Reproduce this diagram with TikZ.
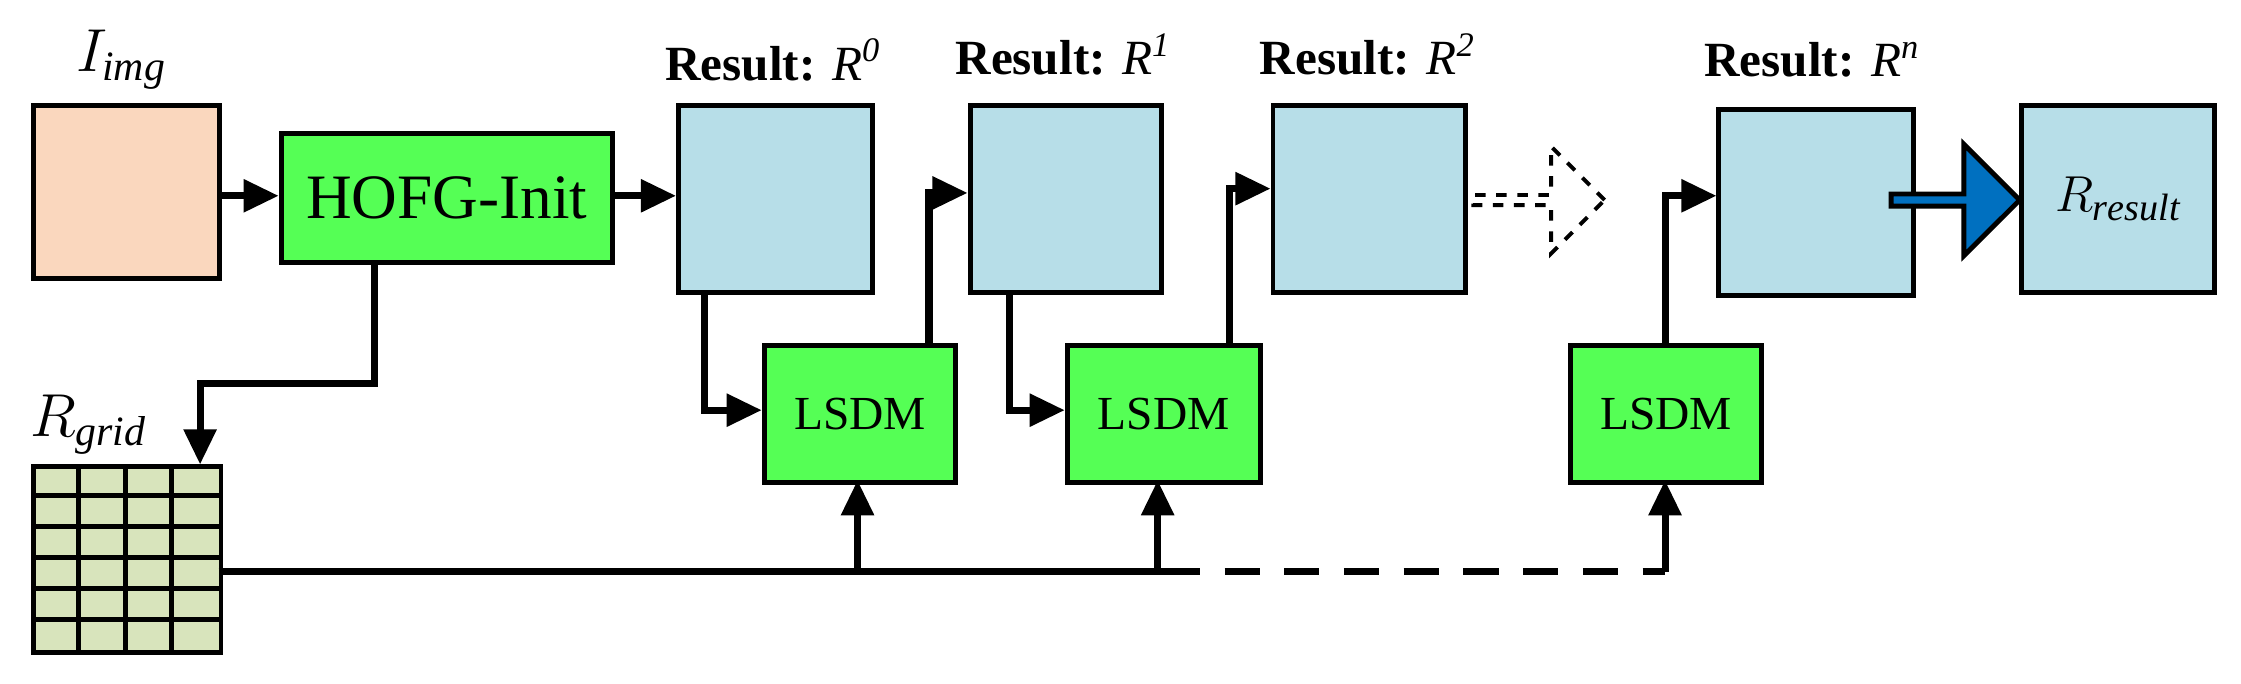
\documentclass[tikz,border=0pt]{standalone}
\usepackage{fontspec}
\setmainfont{Liberation Serif}
\usetikzlibrary{arrows.meta,shapes.arrows}
\begin{document}
\begin{tikzpicture}[x=0.01429cm,y=-0.01429cm,
  box/.style={draw,line width=1.4pt,anchor=north west,inner sep=0pt},
  res/.style={box,fill={rgb,255:red,183;green,222;blue,232}},
  grn/.style={box,fill={rgb,255:red,85;green,255;blue,85},font=\fontsize{13.5}{16}\selectfont},
  conn/.style={line width=2pt,-{Triangle[length=10pt,width=9pt]}},
  rl/.style={font=\bfseries\fontsize{14}{17}\selectfont}]
\useasboundingbox (0,0) rectangle (1568,478);
\node[box,fill={rgb,255:red,250;green,215;blue,190},minimum width=1.3cm*1.429,minimum height=1.21cm*1.429] (img) at (22,72) {};
\node[grn,minimum width=2.32cm*1.429,minimum height=0.9cm*1.429,font=\fontsize{18}{21}\selectfont] (hofg) at (195,92) {HOFG-Init};
\node[res,minimum width=1.36cm*1.429,minimum height=1.31cm*1.429] (r0) at (473,72) {};
\node[res,minimum width=1.34cm*1.429,minimum height=1.31cm*1.429] (r1) at (677,72) {};
\node[res,minimum width=1.35cm*1.429,minimum height=1.31cm*1.429] (r2) at (889,72) {};
\node[res,minimum width=1.36cm*1.429,minimum height=1.30cm*1.429] (rn) at (1201,75) {};
\node[res,minimum width=1.35cm*1.429,minimum height=1.31cm*1.429,font=\fontsize{15.5}{18}\selectfont] (rr) at (1413,72) {$R_{\mathit{result}}$};
\node[grn,minimum width=1.34cm*1.429,minimum height=0.96cm*1.429] (l1) at (533,240) {LSDM};
\node[grn,minimum width=1.35cm*1.429,minimum height=0.96cm*1.429] (l2) at (745,240) {LSDM};
\node[grn,minimum width=1.34cm*1.429,minimum height=0.96cm*1.429] (l3) at (1097,240) {LSDM};
% grid
\node[box,fill={rgb,255:red,216;green,228;blue,188},minimum width=1.31cm*1.429,minimum height=1.30cm*1.429] (grid) at (22,325) {};
\foreach \i in {1,2,3} \draw[line width=1.4pt] (22+\i*32.75,325) -- (22+\i*32.75,455);
\foreach \j in {1,...,5} \draw[line width=1.4pt] (22,325+\j*21.67) -- (153,325+\j*21.67);
% labels
\node[font=\fontsize{17}{20}\selectfont] (limg) at (85,42) {$I_{\mathit{img}}$};
\node[font=\fontsize{17}{20}\selectfont] (lgrid) at (62,297) {$R_{\mathit{grid}}$};
\node[rl] (t0) at (541,42) {Result: $\mathit{R^0}$};
\node[rl] (t1) at (744,38) {Result: $\mathit{R^1}$};
\node[rl] (t2) at (957,38) {Result: $\mathit{R^2}$};
\node[rl] (tn) at (1268,42) {Result: $\mathit{R^n}$};
% connectors
\draw[conn] (img.east |- 0,137) -- (hofg.west |- 0,137);
\draw[conn] (hofg.east |- 0,137) -- (r0.west |- 0,137);
\draw[conn] (262,182) -- (262,268) -- (140,268) -- (140,325);
\draw[conn] (493,203) -- (493,287) -- (l1.west |- 0,287);
\draw[conn] (650,240) -- (650,135) -- (r1.west |- 0,135);
\draw[conn] (706,203) -- (706,287) -- (l2.west |- 0,287);
\draw[conn] (860,240) -- (860,132) -- (r2.west |- 0,132);
\draw[conn] (1165,240) -- (1165,137) -- (rn.west |- 0,137);
\coordinate (split) at (815,400);
\draw[line width=2pt] (153,400) -- (split);
\draw[line width=2pt,dash pattern=on 10pt off 7pt] (split) -- (1165,400);
\draw[conn] (600,400) -- (600,336);
\draw[conn] (810,400) -- (810,336);
\draw[conn] (1165,400) -- (1165,336);
% big arrows
\node[single arrow,draw,dashed,line width=1.1pt,minimum height=0.92cm*1.429,minimum width=0.75cm*1.429,single arrow head extend=0.13cm*1.429,inner sep=0pt] (da) at (1075,140) {};
\node[single arrow,draw,line width=1.4pt,fill={rgb,255:red,0;green,112;blue,192},minimum height=0.9cm*1.429,minimum width=0.78cm*1.429,single arrow head extend=0.14cm*1.429,inner sep=0pt] (ba) at (1366,140) {};
\end{tikzpicture}
\end{document}
